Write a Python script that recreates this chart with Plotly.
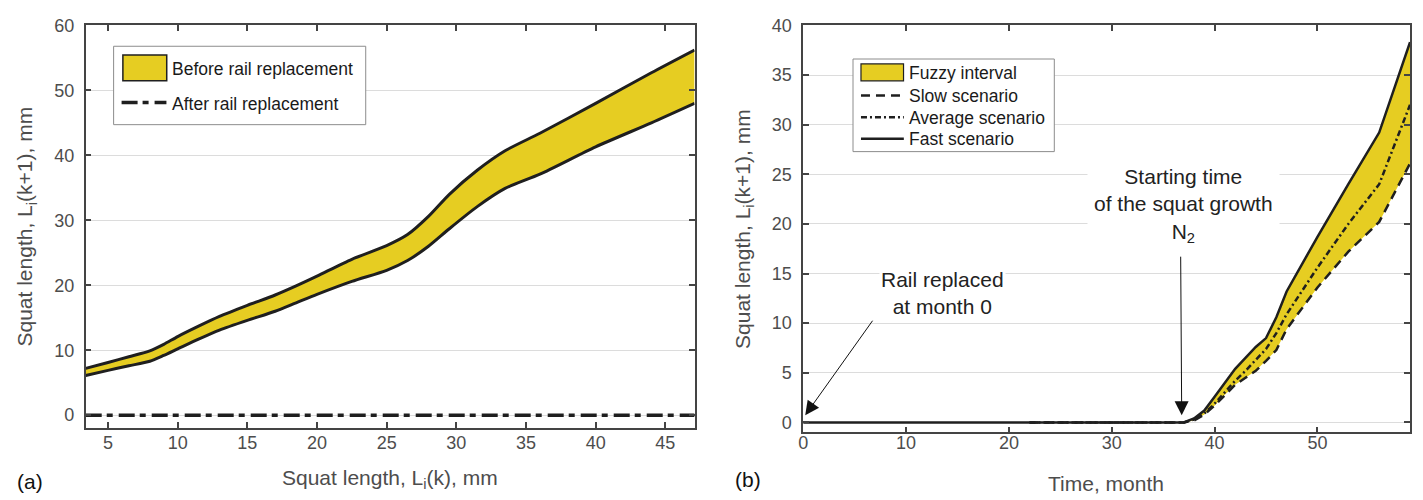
import plotly.graph_objects as go

# ---------------- data ----------------
# (a) one-step squat growth: L_i(k) -> L_i(k+1)
squat_len_k = [3.4, 5, 6.5, 8, 9, 10, 11.5, 13, 15, 17, 18.5, 20, 22.5, 25, 26.5,
               28, 29.5, 31.5, 33.5, 36, 40, 44, 47.1]
before_upper = [7.2, 8.1, 9.0, 9.9, 10.9, 12.1, 13.7, 15.2, 16.9, 18.5, 19.9, 21.4,
                24.0, 26.1, 27.8, 30.6, 34.0, 37.7, 40.7, 43.4, 48.0, 52.7, 56.2]
before_lower = [6.1, 6.9, 7.6, 8.3, 9.2, 10.2, 11.7, 13.1, 14.6, 16.0, 17.3, 18.6,
                20.6, 22.3, 23.8, 26.0, 28.7, 32.1, 34.9, 37.1, 41.3, 45.0, 48.0]
after_replacement = [0.0] * len(squat_len_k)

# (b) squat length over time after rail replacement
growth_month = [37, 38, 39, 40, 41, 42, 43, 44, 45, 46, 47, 50, 53, 56, 59]
fast_growth = [0, 0.4, 1.2, 2.6, 4.0, 5.4, 6.5, 7.6, 8.5, 10.6, 13.2, 18.7, 24.0, 29.2, 38.3]
average_growth = [0, 0.3, 0.9, 1.9, 3.1, 4.2, 5.2, 6.3, 7.4, 9.0, 10.9, 15.6, 20.0, 24.0, 32.0]
slow_growth = [0, 0.2, 0.8, 1.7, 2.8, 3.8, 4.5, 5.2, 6.2, 7.3, 9.4, 13.6, 17.2, 20.2, 26.1]
fast_start, average_start, slow_start = 0, 22, 22

x_ticks_a = [5, 10, 15, 20, 25, 30, 35, 40, 45]
y_ticks_a = [0, 10, 20, 30, 40, 50, 60]
x_ticks_b = [0, 10, 20, 30, 40, 50]
y_ticks_b = [0, 5, 10, 15, 20, 25, 30, 35, 40]

# ---------------- styling ----------------
W, H = 1423, 500
FONT = "Liberation Sans, Arial, sans-serif"
YELLOW = "#E6CD22"
INK = "#1f1f1f"
AXIS = "#444444"
TICK_TXT = "#4d4d4d"
DASHDOT_A = "16px,5px,6px,6px"
DASH_SLOW = "9px,6px"
DASHDOT_AVG = "6px,3px,2px,3px"


def px(x):
    return x / W


def py(y):
    return 1 - y / H


fig = go.Figure()

# (a) interval band before replacement
smooth = dict(shape="spline", smoothing=0.7)
fig.add_trace(go.Scatter(x=squat_len_k, y=before_lower, mode="lines",
                         line=dict(width=0, **smooth), hoverinfo="skip",
                         showlegend=False, xaxis="x", yaxis="y"))
fig.add_trace(go.Scatter(x=squat_len_k, y=before_upper, mode="lines", fill="tonexty",
                         fillcolor=YELLOW, line=dict(width=0, **smooth), showlegend=False,
                         xaxis="x", yaxis="y"))
fig.add_trace(go.Scatter(x=squat_len_k, y=before_lower, mode="lines",
                         line=dict(color=INK, width=3, **smooth), showlegend=False,
                         xaxis="x", yaxis="y"))
fig.add_trace(go.Scatter(x=squat_len_k, y=before_upper, mode="lines",
                         line=dict(color=INK, width=3, **smooth), showlegend=False,
                         xaxis="x", yaxis="y"))
fig.add_trace(go.Scatter(x=squat_len_k, y=after_replacement, mode="lines",
                         line=dict(color=INK, width=3.5, dash=DASHDOT_A),
                         showlegend=False, xaxis="x", yaxis="y"))

# (b) fuzzy interval between the slow and fast scenarios
band_x = growth_month + growth_month[::-1]
band_y = fast_growth + slow_growth[::-1]
fig.add_trace(go.Scatter(x=band_x, y=band_y, mode="lines", fill="toself",
                         fillcolor=YELLOW, line=dict(width=0), showlegend=False,
                         xaxis="x2", yaxis="y2"))
fig.add_trace(go.Scatter(x=[slow_start] + growth_month, y=[0] + slow_growth, mode="lines",
                         line=dict(color=INK, width=2.5, dash=DASH_SLOW),
                         showlegend=False, xaxis="x2", yaxis="y2"))
fig.add_trace(go.Scatter(x=[average_start] + growth_month, y=[0] + average_growth,
                         mode="lines", line=dict(color=INK, width=2.5, dash=DASHDOT_AVG),
                         showlegend=False, xaxis="x2", yaxis="y2"))
fig.add_trace(go.Scatter(x=[fast_start] + growth_month, y=[0] + fast_growth, mode="lines",
                         line=dict(color=INK, width=2.5), showlegend=False,
                         xaxis="x2", yaxis="y2"))

common = dict(showline=True, linecolor=AXIS, linewidth=1.5, mirror="ticks",
              ticks="inside", ticklen=6, tickwidth=1.5, tickcolor=AXIS,
              tickfont=dict(family=FONT, size=18, color=TICK_TXT), zeroline=False)
xgrid = dict(showgrid=False)
ygrid = dict(showgrid=True, gridcolor="#dcdcdc", gridwidth=1.3)

fig.update_layout(
    width=W, height=H,
    margin=dict(l=0, r=0, t=0, b=0),
    paper_bgcolor="white", plot_bgcolor="white",
    font=dict(family=FONT, color="#262626"),
    showlegend=False,
    xaxis=dict(domain=[px(81), px(692)], range=[3.4, 47.1], tickvals=x_ticks_a,
               anchor="y", ticklabelstandoff=-3, **common, **xgrid),
    yaxis=dict(domain=[py(426.7), py(15.7)], range=[-2, 60], tickvals=y_ticks_a,
               anchor="x", ticklabelstandoff=6, **common, **ygrid),
    xaxis2=dict(domain=[px(801), px(1410)], range=[0, 59], tickvals=x_ticks_b,
                anchor="y2", ticklabelstandoff=-7, **common, **xgrid),
    yaxis2=dict(domain=[py(431), py(15.7)], range=[-1, 40], tickvals=y_ticks_b,
                anchor="x2", ticklabelstandoff=6, **common, **ygrid),
)

ann = []
title_font = dict(family=FONT, size=21, color=TICK_TXT)
label_font = dict(family=FONT, size=21, color="#111111")
# axis titles
ann.append(dict(text="Squat length, L<sub>i</sub>(k), mm", x=px(386.5), y=py(479),
                xref="paper", yref="paper", showarrow=False, font=title_font,
                xanchor="center", yanchor="middle"))
ann.append(dict(text="Squat length, L<sub>i</sub>(k+1), mm", x=px(21), y=py(221),
                xref="paper", yref="paper", showarrow=False, font=title_font,
                textangle=-90, xanchor="center", yanchor="middle"))
ann.append(dict(text="Time, month", x=px(1105), y=py(483.5),
                xref="paper", yref="paper", showarrow=False, font=title_font,
                xanchor="center", yanchor="middle"))
ann.append(dict(text="Squat length, L<sub>i</sub>(k+1), mm", x=px(741), y=py(223),
                xref="paper", yref="paper", showarrow=False, font=title_font,
                textangle=-90, xanchor="center", yanchor="middle"))
# panel labels
ann.append(dict(text="(a)", x=px(25.5), y=py(481), xref="paper", yref="paper",
                showarrow=False, font=label_font, xanchor="center", yanchor="middle"))
ann.append(dict(text="(b)", x=px(745.5), y=py(479), xref="paper", yref="paper",
                showarrow=False, font=label_font, xanchor="center", yanchor="middle"))

# (b) callouts
callout_font = dict(family=FONT, size=21, color="#222222")
ann.append(dict(text="Rail replaced<br>at month 0", x=13.5, y=13.07, xref="x2", yref="y2",
                showarrow=False, font=callout_font, bgcolor="white", borderpad=1,
                align="center", xanchor="center", yanchor="middle"))
ann.append(dict(text="", x=0.2, y=0.73, ax=6.85, ay=10.4, xref="x2", yref="y2",
                axref="x2", ayref="y2", showarrow=True, arrowhead=2, arrowsize=2.8,
                arrowwidth=1, arrowcolor="#111111"))
ann.append(dict(text="Starting time<br>of the squat growth<br>N<sub>2</sub>", x=36.98, y=21.9,
                xref="x2", yref="y2", showarrow=False, font=callout_font, bgcolor="white",
                borderpad=6, align="center", xanchor="center", yanchor="middle"))
ann.append(dict(text="", x=36.8, y=0.73, ax=36.7, ay=16.85, xref="x2", yref="y2",
                axref="x2", ayref="y2", showarrow=True, arrowhead=2, arrowsize=2.8,
                arrowwidth=1, arrowcolor="#111111"))

# legend boxes drawn in paper space
legend_font = dict(family=FONT, size=17.5, color="#1a1a1a")
shapes = []
# (a) legend
shapes.append(dict(type="rect", xref="paper", yref="paper", x0=px(109), x1=px(362),
                   y0=py(117), y1=py(37), fillcolor="white",
                   line=dict(color="#8c8c8c", width=1)))
shapes.append(dict(type="rect", xref="paper", yref="paper", x0=px(118.3), x1=px(162.3),
                   y0=py(72.3), y1=py(46), fillcolor=YELLOW, line=dict(color=INK, width=1.5)))
shapes.append(dict(type="line", xref="paper", yref="paper", x0=px(117), x1=px(162),
                   y0=py(94.3), y1=py(94.3), line=dict(color=INK, width=3.5, dash=DASHDOT_A)))
ann.append(dict(text="Before rail replacement", x=px(165.5), y=py(60), xref="paper",
                yref="paper", showarrow=False, font=legend_font, xanchor="left",
                yanchor="middle"))
ann.append(dict(text="After rail replacement", x=px(165.5), y=py(96), xref="paper",
                yref="paper", showarrow=False, font=legend_font, xanchor="left",
                yanchor="middle"))
# (b) legend
shapes.append(dict(type="rect", xref="paper", yref="paper", x0=px(851), x1=px(1053),
                   y0=py(144.5), y1=py(50), fillcolor="white",
                   line=dict(color="#8c8c8c", width=1)))
shapes.append(dict(type="rect", xref="paper", yref="paper", x0=px(859), x1=px(901.7),
                   y0=py(72.3), y1=py(55), fillcolor=YELLOW, line=dict(color=INK, width=1.2)))
shapes.append(dict(type="line", xref="paper", yref="paper", x0=px(859), x1=px(902),
                   y0=py(87.3), y1=py(87.3), line=dict(color=INK, width=2.5, dash=DASH_SLOW)))
shapes.append(dict(type="line", xref="paper", yref="paper", x0=px(859), x1=px(902),
                   y0=py(109.5), y1=py(109.5),
                   line=dict(color=INK, width=2.5, dash=DASHDOT_AVG)))
shapes.append(dict(type="line", xref="paper", yref="paper", x0=px(859), x1=px(902),
                   y0=py(131.5), y1=py(131.5), line=dict(color=INK, width=2.5)))
for label, yc in [("Fuzzy interval", 64.3), ("Slow scenario", 87.3),
                  ("Average scenario", 110), ("Fast scenario", 131.7)]:
    ann.append(dict(text=label, x=px(905.5), y=py(yc), xref="paper", yref="paper",
                    showarrow=False, font=legend_font, xanchor="left", yanchor="middle"))

fig.update_layout(annotations=ann, shapes=shapes)
fig.write_html("out.html")
